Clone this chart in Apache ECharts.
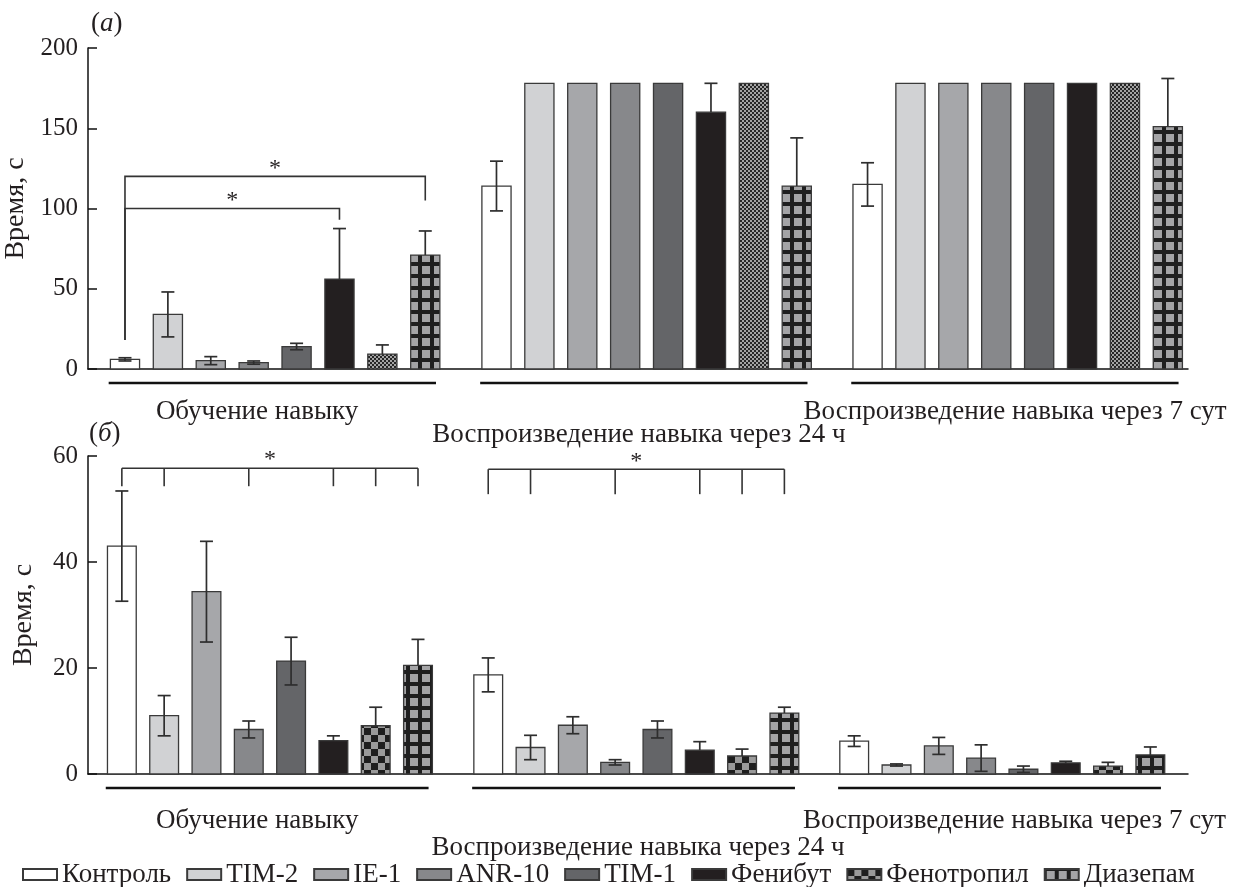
<!DOCTYPE html>
<html>
<head>
<meta charset="utf-8">
<title>Время, с</title>
<script src="https://cdn.jsdelivr.net/npm/echarts@6.0.0/dist/echarts.min.js"></script>
<style>
html, body { margin: 0; padding: 0; background: #fff; }
#chart { width: 1234px; height: 887px; }
</style>
</head>
<body>
<div id="chart"></div>
<script>
// препараты и этапы опыта
const drugs = ['Контроль', 'TIM-2', 'IE-1', 'ANR-10', 'TIM-1', 'Фенибут', 'Фенотропил', 'Диазепам'];
const stages = ['Обучение навыку', 'Воспроизведение навыка через 24 ч', 'Воспроизведение навыка через 7 сут'];

// (а) время, с — среднее и ошибка
const aLearn    = [6, 34, 5.2, 4, 14, 56, 9.3, 71];
const aLearnErr = [1, 14, 2.5, 1, 2, 31.5, 5.7, 15];
const a24h      = [114, 178, 178, 178, 178, 160, 178, 114];
const a24hErr   = [15.5, 0, 0, 0, 0, 18, 0, 30];
const a7d       = [115, 178, 178, 178, 178, 178, 178, 151];
const a7dErr    = [13.5, 0, 0, 0, 0, 0, 0, 30];

// (б) время, с — среднее и ошибка
const bLearn    = [43, 11, 34.4, 8.4, 21.3, 6.3, 9.1, 20.5];
const bLearnErr = [10.4, 3.8, 9.5, 1.6, 4.5, 0.9, 3.5, 4.9];
const b24h      = [18.7, 5, 9.2, 2.2, 8.4, 4.5, 3.4, 11.5];
const b24hErr   = [3.2, 2.3, 1.6, 0.5, 1.6, 1.6, 1.3, 1.1];
const b7d       = [6.2, 1.7, 5.3, 3, 0.9, 2.1, 1.5, 3.6];
const b7dErr    = [1, 0.2, 1.6, 2.5, 0.6, 0.3, 0.7, 1.5];

// значимые различия (*)
const sigA = [
  { stage: 0, from: 0, to: 5, level: 100, ends: [18, 93] },
  { stage: 0, from: 0, to: 7, level: 120, ends: [18, 105] }
];
const sigB = [
  { stage: 0, legs: [0, 1, 3, 5, 6, 7], level: 57.7, low: 54.3 },
  { stage: 1, legs: [0, 1, 3, 5, 6, 7], level: 57.5, low: 52.8 }
];

const yTicksA = [0, 50, 100, 150, 200];
const yTicksB = [0, 20, 40, 60];

const FONT = '"Liberation Serif", "DejaVu Serif", serif';
const INK = '#231f20';
const EDGE = '#3a3a3a';

// начало каждой группы столбцов на оси x (в шагах столбца)
const groupStart = [0, 8.66, 17.31];
function pos(g, k) { return groupStart[g] + k; }

// текстуры
function tile(size, paint) {
  const c = document.createElement('canvas');
  c.width = c.height = size;
  paint(c.getContext('2d'), size);
  return { image: c, repeat: 'repeat' };
}
function checker(cell, dark, light) {
  return tile(cell * 2, function (ctx) {
    ctx.fillStyle = light; ctx.fillRect(0, 0, cell * 2, cell * 2);
    ctx.fillStyle = dark; ctx.fillRect(0, 0, cell, cell); ctx.fillRect(cell, cell, cell, cell);
  });
}
const fineCheck = checker(2, '#262626', '#a3a3a3');
const coarseCheck = checker(7, '#1e1e1e', '#9a9a9a');
const gridPat = tile(12, function (ctx) {
  ctx.fillStyle = '#1f1f1f'; ctx.fillRect(0, 0, 12, 12);
  ctx.fillStyle = '#a4a4a6'; ctx.fillRect(2, 2, 8, 8);
});

const solid = ['#ffffff', '#d1d2d4', '#a6a7aa', '#87888b', '#646568', '#231f20'];
const fillsA = solid.concat([fineCheck, gridPat]);
const fillsB = solid.concat([coarseCheck, gridPat]);
const upperOnly = [false, false, false, false, false, true, true, true];

function barSeries(panel, i, means, errs, fills) {
  const data = [];
  for (let g = 0; g < 3; g++) data.push([pos(g, i), means[g][i], errs[g][i]]);
  return {
    type: 'custom',
    name: drugs[i],
    xAxisIndex: panel,
    yAxisIndex: panel,
    clip: false,
    itemStyle: { color: fillsB[i], borderColor: EDGE, borderWidth: 1.3 },
    data: data,
    renderItem: function (params, api) {
      const x = api.value(0), v = api.value(1), e = api.value(2);
      const b = api.coord([x, 0]);
      const t = api.coord([x, v]);
      const w = api.size([0.68, 0])[0];
      const kids = [{
        type: 'rect',
        shape: { x: b[0] - w / 2, y: t[1], width: w, height: b[1] - t[1] },
        style: { fill: fills[i], stroke: EDGE, lineWidth: 1.3 }
      }];
      if (e > 0) {
        const hi = api.coord([x, v + e])[1];
        const lo = upperOnly[i] ? t[1] : api.coord([x, Math.max(v - e, 0)])[1];
        const ws = { stroke: '#2e2e2e', lineWidth: 1.7 };
        kids.push({ type: 'line', shape: { x1: b[0], y1: lo, x2: b[0], y2: hi }, style: ws });
        kids.push({ type: 'line', shape: { x1: b[0] - 6.5, y1: hi, x2: b[0] + 6.5, y2: hi }, style: ws });
        if (!upperOnly[i]) {
          kids.push({ type: 'line', shape: { x1: b[0] - 6.5, y1: lo, x2: b[0] + 6.5, y2: lo }, style: ws });
        }
      }
      return { type: 'group', children: kids };
    }
  };
}

// линии под группами
function groupLines(panel) {
  return {
    type: 'custom', xAxisIndex: panel, yAxisIndex: panel, silent: true, clip: false,
    data: [[0], [1], [2]],
    renderItem: function (params, api) {
      const g = api.value(0);
      const p1 = api.coord([groupStart[g] - 0.38, 0]);
      const p2 = api.coord([groupStart[g] + 7.25, 0]);
      return { type: 'line', shape: { x1: p1[0], y1: p1[1] + 14, x2: p2[0], y2: p1[1] + 14 },
               style: { stroke: '#111', lineWidth: 2.5 } };
    }
  };
}

// звёздочка над скобкой
function star(api, x, level) {
  const c = api.coord([x, level]);
  return { type: 'text', x: c[0], y: c[1] - 20,
           style: { text: '*', fill: INK, font: '24px ' + FONT, align: 'center', verticalAlign: 'top' } };
}

const bracketStyle = { stroke: '#333', lineWidth: 1.6, fill: null };

const bracketsA = {
  type: 'custom', xAxisIndex: 0, yAxisIndex: 0, silent: true, clip: false,
  data: sigA.map(function (s, i) { return [i]; }),
  renderItem: function (params, api) {
    const s = sigA[params.dataIndex];
    const xa = pos(s.stage, s.from), xb = pos(s.stage, s.to);
    const pts = [api.coord([xa, s.ends[0]]), api.coord([xa, s.level]), api.coord([xb, s.level]), api.coord([xb, s.ends[1]])];
    return { type: 'group', children: [
      { type: 'polyline', shape: { points: pts }, style: bracketStyle },
      star(api, (xa + xb) / 2, s.level)
    ] };
  }
};

const bracketsB = {
  type: 'custom', xAxisIndex: 1, yAxisIndex: 1, silent: true, clip: false,
  data: sigB.map(function (s, i) { return [i]; }),
  renderItem: function (params, api) {
    const s = sigB[params.dataIndex];
    const xs = s.legs.map(function (k) { return pos(s.stage, k); });
    const kids = [];
    const a = api.coord([xs[0], s.level]), z = api.coord([xs[xs.length - 1], s.level]);
    kids.push({ type: 'line', shape: { x1: a[0], y1: a[1], x2: z[0], y2: z[1] }, style: bracketStyle });
    xs.forEach(function (x) {
      const top = api.coord([x, s.level]), bot = api.coord([x, s.low]);
      kids.push({ type: 'line', shape: { x1: top[0], y1: top[1], x2: bot[0], y2: bot[1] }, style: bracketStyle });
    });
    kids.push(star(api, (xs[0] + xs[xs.length - 1]) / 2, s.level));
    return { type: 'group', children: kids };
  }
};

// подписи этапов под осью x: [центр подписи] для каждой панели
const labelPosA = [3.08, 11.98, 20.75];
const labelPosB = [3.2, 12.2, 21.1];

function nearest(list, val) {
  let best = 0;
  for (let g = 1; g < list.length; g++) if (Math.abs(list[g] - val) < Math.abs(list[best] - val)) best = g;
  return best;
}

// основная ось x: 1-я и 3-я подписи; вторая ось (без линии) — средняя подпись ниже
function xAxisCfg(grid, min, max, margin, lp, middle, step) {
  const vals = middle ? [lp[1]] : [lp[0], lp[2]];
  return {
    type: 'value', gridIndex: grid, min: min, max: max, position: 'bottom',
    axisLine: { show: !middle, onZero: false, lineStyle: { color: '#111', width: 1.5 } },
    axisTick: { show: false },
    splitLine: { show: false },
    axisLabel: {
      customValues: vals, hideOverlap: false,
      formatter: function (val) { return stages[nearest(lp, val)]; },
      margin: middle ? margin + step : margin,
      fontSize: 27, lineHeight: 24, fontFamily: FONT, color: INK
    }
  };
}

function yAxisCfg(grid, ticks) {
  return {
    type: 'value', gridIndex: grid, min: ticks[0], max: ticks[ticks.length - 1],
    interval: ticks[1] - ticks[0],
    name: 'Время, с', nameLocation: 'middle', nameGap: 50, nameRotate: 90,
    nameTextStyle: { fontSize: 28, fontFamily: FONT, color: INK },
    axisLine: { show: true, onZero: false, lineStyle: { color: '#111', width: 1.5 } },
    axisTick: { show: true, inside: true, length: 9, lineStyle: { color: '#111', width: 1.5 } },
    splitLine: { show: false },
    axisLabel: { fontSize: 25, fontFamily: FONT, color: INK, margin: 10 }
  };
}

const series = [];
for (let i = 0; i < drugs.length; i++) series.push(barSeries(0, i, [aLearn, a24h, a7d], [aLearnErr, a24hErr, a7dErr], fillsA));
for (let i = 0; i < drugs.length; i++) series.push(barSeries(1, i, [bLearn, b24h, b7d], [bLearnErr, b24hErr, b7dErr], fillsB));
series.push(groupLines(0), groupLines(1), bracketsA, bracketsB);

const panelRich = {
  p: { fontSize: 27, fontFamily: FONT, color: INK, fontWeight: 'normal' },
  i: { fontSize: 27, fontFamily: FONT, color: INK, fontWeight: 'normal', fontStyle: 'italic' }
};

let Chart = echarts.init(document.getElementById('chart'), null, { renderer: 'canvas' });
Chart.setOption({
  animation: false,
  backgroundColor: '#fff',
  title: [
    { text: '{p|(}{i|а}{p|)}', left: 91, top: 10, padding: 0, textStyle: { fontWeight: 'normal', rich: panelRich } },
    { text: '{p|(}{i|б}{p|)}', left: 89, top: 420, padding: 0, textStyle: { fontWeight: 'normal', rich: panelRich } }
  ],
  grid: [
    { left: 88, right: 46, top: 48, height: 321, outerBoundsMode: 'none', containLabel: false },
    { left: 88, right: 46, top: 456, height: 318, outerBoundsMode: 'none', containLabel: false }
  ],
  xAxis: [
    xAxisCfg(0, -0.862, 24.78, 31, labelPosA, false, 23),
    xAxisCfg(1, -0.80, 25.2, 35, labelPosB, false, 27),
    xAxisCfg(0, -0.862, 24.78, 31, labelPosA, true, 23),
    xAxisCfg(1, -0.80, 25.2, 35, labelPosB, true, 27)
  ],
  yAxis: [yAxisCfg(0, yTicksA), yAxisCfg(1, yTicksB)],
  legend: {
    data: drugs, left: 17, top: 856, icon: 'rect',
    itemWidth: 34, itemHeight: 11, itemGap: 15, selectedMode: false,
    textStyle: { fontSize: 27, fontFamily: FONT, color: INK }
  },
  series: series
});
</script>
</body>
</html>
